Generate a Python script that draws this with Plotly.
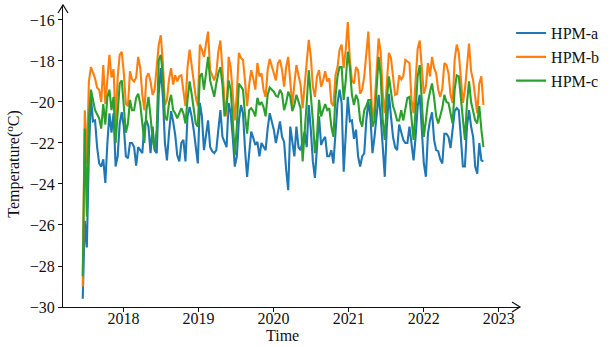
import pandas as pd
import plotly.graph_objects as go

start_date = "2017-06-17"
step = "10D"

hpm_a = [
    -29.6, -25.8, -27.1, -22.5, -19.75, -20.95, -20.9, -22.2, -23.0, -23.15,
    -22.8, -23.95, -22.0, -20.55, -21.5, -20.55, -23.15, -22.65, -21.05, -20.5,
    -21.2, -22.65, -22.75, -22.0, -22.0, -22.2, -23.1, -22.2, -22.35, -22.5,
    -21.1, -20.9, -21.2, -22.5, -21.2, -22.35, -22.5, -19.6, -18.35, -19.75,
    -22.0, -22.85, -21.5, -20.45, -20.95, -21.6, -22.6, -22.9, -22.0, -21.85,
    -22.9, -20.7, -20.25, -20.7, -21.35, -22.35, -23.0, -20.05, -20.7, -22.35,
    -21.7, -20.9, -22.2, -22.4, -22.5, -22.35, -21.35, -20.4, -21.7, -22.0,
    -22.2, -20.05, -20.55, -21.7, -23.15, -22.65, -20.9, -20.15, -20.55, -22.35,
    -23.65, -22.5, -21.45, -21.75, -22.1, -21.95, -22.65, -22.0, -22.2, -22.35,
    -21.3, -20.55, -20.95, -21.35, -22.0, -21.5, -20.95, -21.7, -21.95, -23.3,
    -24.3, -21.2, -21.85, -22.65, -21.2, -22.2, -22.35, -21.8, -21.45, -22.2,
    -20.15, -21.35, -22.9, -23.7, -22.0, -20.7, -22.1, -21.85, -21.7, -22.65,
    -22.65, -22.35, -23.0, -21.5, -20.05, -19.4, -20.05, -23.4, -21.7, -19.75,
    -20.95, -20.9, -21.8, -21.35, -22.65, -23.15, -22.65, -22.5, -20.9, -20.0,
    -20.7, -22.5, -21.7, -20.55, -19.65, -20.7, -22.35, -23.65, -21.2, -19.6,
    -20.7, -21.7, -22.2, -22.35, -21.1, -21.55, -21.85, -22.0, -22.0, -21.2,
    -22.0, -22.85, -21.7, -20.2, -19.65, -21.2, -23.0, -23.65, -21.55, -20.9,
    -20.5, -21.85, -22.35, -22.4, -22.8, -23.0, -21.55, -21.55, -21.7, -22.25,
    -21.2, -20.45, -20.3, -20.4, -21.7, -23.15, -23.15, -21.2, -20.4, -21.2,
    -21.7, -23.15, -23.5, -22.0, -22.85, -22.9,
]

hpm_b = [
    -29.0, -20.4, -23.0, -19.0, -18.3, -18.6, -18.85, -19.3, -19.4, -20.0,
    -18.2, -20.1, -18.8, -17.7, -18.8, -18.4, -21.0, -18.8, -17.7, -17.55,
    -18.6, -20.1, -20.2, -18.5, -18.9, -19.0, -18.8, -17.8, -18.35, -19.65,
    -20.4, -18.8, -18.6, -19.0, -19.65, -19.4, -18.3, -17.2, -16.75, -18.1,
    -20.15, -19.9, -18.9, -18.35, -19.15, -18.7, -19.0, -18.75, -18.7, -19.6,
    -20.2, -18.3, -17.45, -18.2, -18.95, -19.75, -20.2, -17.2, -17.45, -17.8,
    -17.15, -16.57, -18.45, -18.75, -18.95, -18.6, -17.55, -17.0, -18.3, -19.9,
    -20.7, -17.8, -18.3, -19.75, -20.9, -19.6, -17.6, -17.85, -17.95, -19.0,
    -20.2, -19.15, -18.45, -18.85, -19.4, -18.1, -18.75, -18.6, -19.4, -19.75,
    -18.45, -17.9, -18.2, -18.6, -18.95, -18.1, -17.95, -18.45, -19.25, -18.3,
    -17.8, -19.25, -20.2, -19.1, -18.2, -18.7, -19.15, -20.3, -19.15, -18.1,
    -16.97, -17.8, -19.25, -19.75, -18.75, -18.45, -19.25, -18.95, -18.5, -19.0,
    -18.85, -20.05, -20.2, -18.7, -18.3, -17.45, -17.2, -18.35, -17.45, -16.1,
    -17.95, -18.95, -19.1, -18.3, -18.45, -19.6, -19.4, -18.75, -17.45, -16.57,
    -18.75, -20.9, -20.2, -18.6, -16.9, -17.55, -19.6, -20.55, -19.1, -17.6,
    -17.85, -18.85, -19.65, -19.6, -18.7, -18.9, -18.75, -17.95, -18.05, -18.1,
    -19.9, -20.55, -18.95, -17.4, -17.0, -18.3, -19.6, -19.25, -18.1, -18.75,
    -17.8, -18.35, -18.6, -19.4, -19.75, -19.35, -18.1, -18.2, -18.6, -19.65,
    -20.05, -17.95, -17.2, -17.6, -18.75, -20.05, -19.4, -18.1, -17.15, -18.5,
    -18.95, -19.75, -20.55, -19.1, -18.75, -20.15,
]

hpm_c = [
    -28.5, -21.3, -25.6, -20.8, -19.4, -19.9, -20.4, -20.6, -20.8, -21.3,
    -20.1, -21.1, -19.75, -19.4, -20.4, -19.75, -22.0, -20.55, -19.1, -18.95,
    -20.1, -21.5, -21.05, -19.9, -20.4, -20.4, -19.8, -19.6, -20.1, -21.05,
    -22.0, -20.4, -19.75, -20.7, -21.85, -22.3, -21.35, -17.95, -17.7, -18.75,
    -20.7, -20.9, -20.05, -19.65, -20.4, -20.55, -20.8, -20.55, -20.3, -20.55,
    -21.05, -19.9, -19.0, -19.6, -20.4, -21.05, -21.2, -18.75, -18.6, -19.4,
    -18.6, -17.8, -18.95, -19.4, -19.75, -19.1, -18.6, -18.3, -19.15, -20.7,
    -20.2, -18.95, -19.4, -20.9, -22.6, -21.2, -19.1, -19.25, -19.4, -20.65,
    -21.55, -20.4, -20.3, -20.45, -20.7, -19.8, -20.15, -20.0, -20.25, -20.7,
    -19.65, -19.3, -19.4, -19.5, -19.7, -19.75, -19.4, -19.6, -20.4, -20.05,
    -19.5, -19.75, -20.45, -20.15, -19.65, -20.0, -20.3, -22.9, -21.6, -20.05,
    -18.45, -19.6, -20.9, -22.5, -21.7, -19.9, -20.7, -20.4, -20.1, -20.4,
    -20.3, -21.2, -21.7, -19.75, -18.75, -18.3, -18.3, -19.9, -18.95, -17.55,
    -18.3, -19.65, -20.15, -19.65, -19.9, -20.9, -21.2, -20.4, -20.2, -19.9,
    -19.9, -21.2, -20.9, -19.4, -17.8, -18.7, -20.9, -21.85, -19.9, -18.75,
    -19.4, -20.2, -20.5, -20.9, -20.9, -20.4, -20.9, -20.25, -19.8, -19.75,
    -20.9, -21.85, -20.4, -18.75, -18.2, -20.05, -21.7, -20.9, -20.0, -19.5,
    -19.1, -19.8, -20.7, -21.05, -20.7, -20.3, -19.65, -20.0, -20.05, -20.65,
    -21.05, -19.4, -18.7, -18.75, -19.75, -20.9, -21.85, -20.05, -19.0, -20.0,
    -20.45, -20.9, -21.05, -20.2, -21.35, -22.2,
]

series_names = ["HPM-a", "HPM-b", "HPM-c"]
series_colors = ["#1f77b4", "#ff7f0e", "#2ca02c"]
y_ticks = [-30, -28, -26, -24, -22, -20, -18, -16]
y_tick_text = ["\u221230", "\u221228", "\u221226", "\u221224", "\u221222", "\u221220", "\u221218", "\u221216"]
x_tick_years = ["2018", "2019", "2020", "2021", "2022", "2023"]

dates = pd.date_range(start=start_date, periods=len(hpm_a), freq=step)

FONT = "Liberation Serif"
fig = go.Figure()
for name, vals, col in zip(series_names, [hpm_a, hpm_b, hpm_c], series_colors):
    fig.add_trace(go.Scatter(x=dates, y=vals, mode="lines", name=name,
                             line=dict(color=col, width=2.1)))

fig.update_layout(
    width=612, height=347,
    margin=dict(l=63, r=92, t=5, b=40, autoexpand=False),
    paper_bgcolor="white", plot_bgcolor="white",
    font=dict(family=FONT, size=16, color="#111"),
    showlegend=True,
    legend=dict(x=0.9805, y=0.963, xanchor="left", yanchor="top",
                bgcolor="rgba(0,0,0,0)", font=dict(size=16, family=FONT)),
    xaxis=dict(
        range=["2017-03-13", "2023-04-15"],
        tickvals=[y + "-01-01" for y in x_tick_years], ticktext=x_tick_years,
        showgrid=False, zeroline=False, showline=True, linecolor="#111", linewidth=1.2,
        ticks="outside", ticklen=4, tickcolor="#111", automargin=False,
        ticklabelstandoff=-7,
        tickfont=dict(size=16),
    ),
    yaxis=dict(
        range=[-30, -15.27],
        tickvals=y_ticks, ticktext=y_tick_text,
        showgrid=False, zeroline=False, showline=True, linecolor="#111", linewidth=1.2,
        ticks="outside", ticklen=4, tickcolor="#111", automargin=False,
        tickfont=dict(size=16),
    ),
)

# axis titles placed as annotations (pixel-matched to the reference)
fig.add_annotation(text="Time", xref="paper", yref="paper", x=0.4814, y=-0.096,
                   xanchor="center", yanchor="middle", showarrow=False,
                   font=dict(size=16, family=FONT, color="#111"))
fig.add_annotation(text="Temperature(<sup>o</sup>C)", xref="paper", yref="paper",
                   x=-0.11, y=0.4735, xanchor="center", yanchor="middle", textangle=-90,
                   showarrow=False, font=dict(size=16, family=FONT, color="#111"))

# axis arrows (open chevrons) at the ends of the axes
fig.add_shape(type="path", xref="paper", yref="paper", xsizemode="pixel", ysizemode="pixel",
              xanchor=1, yanchor=0, path="M -8,5 L 0,0 L -8,-5",
              line=dict(color="#111", width=1.2))
fig.add_shape(type="path", xref="paper", yref="paper", xsizemode="pixel", ysizemode="pixel",
              xanchor=0, yanchor=1, path="M -5,-8 L 0,0 L 5,-8",
              line=dict(color="#111", width=1.2))

fig.write_html("out.html", config={"displayModeBar": False},
               post_script="document.body.style.margin='0';")
